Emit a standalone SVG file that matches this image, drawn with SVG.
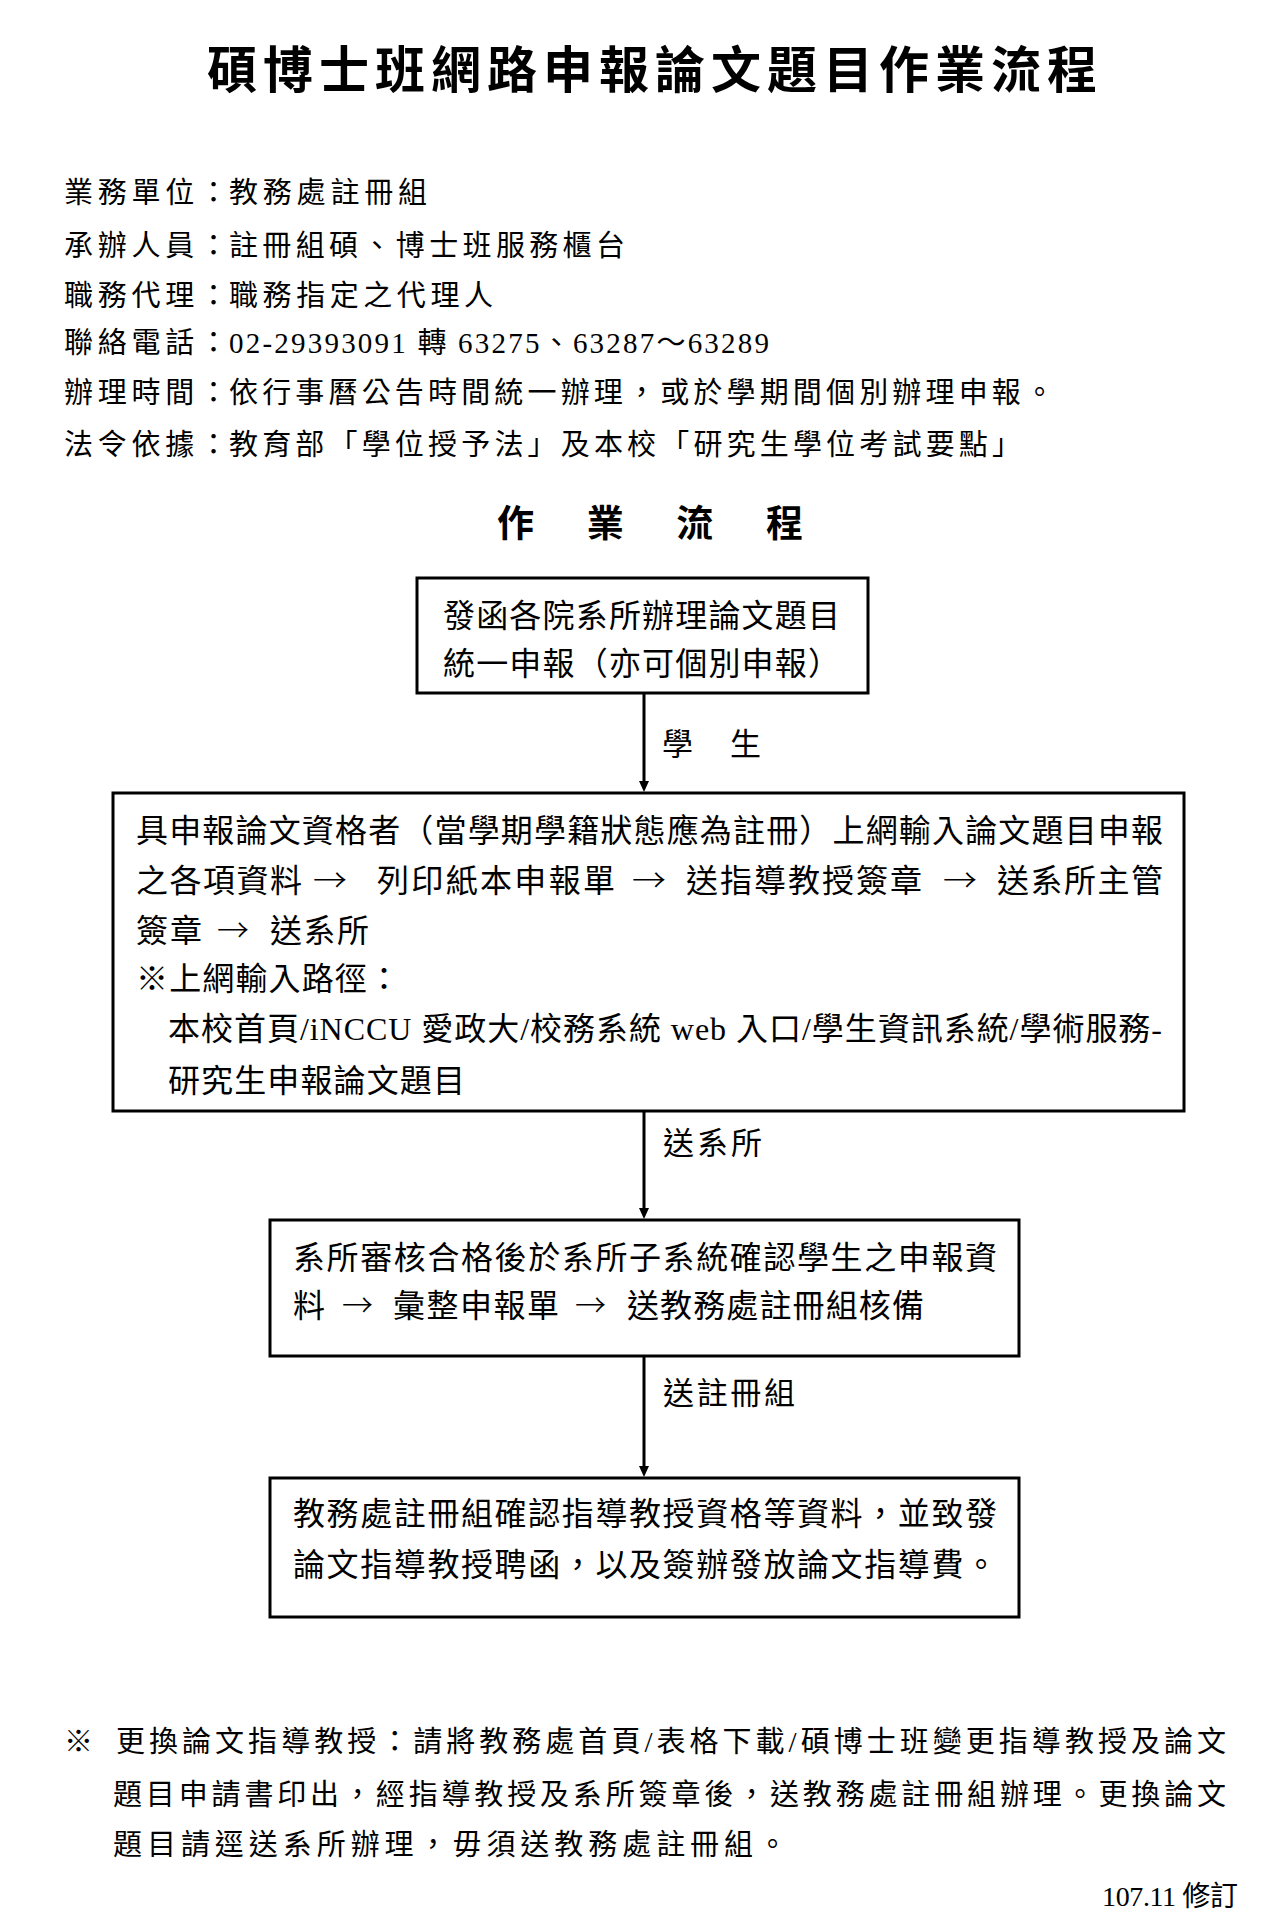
<svg xmlns="http://www.w3.org/2000/svg" width="1264" height="1922" viewBox="0 0 1264 1922">
<style>
text{font-family:"Liberation Serif","Noto Sans CJK TC",serif;fill:#000}
.title{font-family:"Noto Sans CJK TC",sans-serif;font-size:50px;font-weight:700}
.head{font-family:"Noto Sans CJK TC",sans-serif;font-size:37px;font-weight:700}
.info{font-size:29px}
.bx{font-size:32px}
.arr{font-family:"Noto Sans CJK TC",sans-serif;font-size:32px;font-weight:300}
.lbl{font-size:31px}
.note{font-size:29px}
.box{fill:#fff;stroke:#000;stroke-width:3}
.conn{stroke:#000;stroke-width:3;fill:none}
</style>
<defs>
<marker id="ah" viewBox="0 0 11 10" markerWidth="11" markerHeight="10" refX="4" refY="5" orient="auto" markerUnits="userSpaceOnUse">
<path d="M0,0 L11,5 L0,10 z" fill="#000"/>
</marker>
</defs>
<rect width="1264" height="1922" fill="#fff"/>

<g id="header">
<text class="title" x="207" y="88" textLength="890" lengthAdjust="spacing">碩博士班網路申報論文題目作業流程</text>
<g class="info">
<text x="64" y="203" textLength="164" lengthAdjust="spacing">業務單位：</text>
<text x="229" y="203" textLength="198" lengthAdjust="spacing">教務處註冊組</text>
<text x="64" y="256" textLength="164" lengthAdjust="spacing">承辦人員：</text>
<text x="229" y="256" textLength="396" lengthAdjust="spacing">註冊組碩、博士班服務櫃台</text>
<text x="64" y="306" textLength="164" lengthAdjust="spacing">職務代理：</text>
<text x="229" y="306" textLength="264" lengthAdjust="spacing">職務指定之代理人</text>
<text x="64" y="353" textLength="164" lengthAdjust="spacing">聯絡電話：</text>
<text x="229" y="353" textLength="540" lengthAdjust="spacing">02-29393091 轉 63275、63287～63289</text>
<text x="64" y="403" textLength="164" lengthAdjust="spacing">辦理時間：</text>
<text x="229" y="403" textLength="825" lengthAdjust="spacing">依行事曆公告時間統一辦理，或於學期間個別辦理申報。</text>
<text x="64" y="455" textLength="164" lengthAdjust="spacing">法令依據：</text>
<text x="229" y="455" textLength="792" lengthAdjust="spacing">教育部「學位授予法」及本校「研究生學位考試要點」</text>
</g>
<text class="head" x="497" y="537" textLength="306" lengthAdjust="spacing">作　業　流　程</text>
</g>

<g id="connectors">
<line class="conn" x1="644" y1="694" x2="644" y2="785" marker-end="url(#ah)"/>
<line class="conn" x1="644" y1="1112" x2="644" y2="1212" marker-end="url(#ah)"/>
<line class="conn" x1="644" y1="1357" x2="644" y2="1470" marker-end="url(#ah)"/>
<text class="lbl" x="662" y="755" textLength="99" lengthAdjust="spacing">學　生</text>
<text class="lbl" x="663" y="1154" textLength="99" lengthAdjust="spacing">送系所</text>
<text class="lbl" x="663" y="1404" textLength="132" lengthAdjust="spacing">送註冊組</text>
</g>

<g id="box1">
<rect class="box" x="417" y="578" width="451" height="115"/>
<text class="bx" x="443" y="627" textLength="397" lengthAdjust="spacing">發函各院系所辦理論文題目</text>
<text class="bx" x="443" y="675" textLength="397" lengthAdjust="spacing">統一申報（亦可個別申報）</text>
</g>

<g id="box2">
<rect class="box" x="113" y="793" width="1071" height="318"/>
<text class="bx" x="136" y="842" textLength="1027" lengthAdjust="spacing">具申報論文資格者（當學期學籍狀態應為註冊）上網輸入論文題目申報</text>
<text class="bx" x="136" y="892" textLength="166" lengthAdjust="spacing">之各項資料</text>
<text class="arr" x="313" y="892" textLength="34" lengthAdjust="spacingAndGlyphs">→</text>
<text class="bx" x="377" y="892" textLength="238" lengthAdjust="spacing">列印紙本申報單</text>
<text class="arr" x="632" y="892" textLength="34" lengthAdjust="spacingAndGlyphs">→</text>
<text class="bx" x="686" y="892" textLength="236" lengthAdjust="spacing">送指導教授簽章</text>
<text class="arr" x="943" y="892" textLength="34" lengthAdjust="spacingAndGlyphs">→</text>
<text class="bx" x="997" y="892" textLength="166" lengthAdjust="spacing">送系所主管</text>
<text class="bx" x="136" y="942" textLength="66" lengthAdjust="spacing">簽章</text>
<text class="arr" x="217" y="942" textLength="32" lengthAdjust="spacingAndGlyphs">→</text>
<text class="bx" x="270" y="942" textLength="99" lengthAdjust="spacing">送系所</text>
<text class="bx" x="136" y="990" textLength="264" lengthAdjust="spacing">※上網輸入路徑：</text>
<text class="bx" x="168" y="1040" textLength="994" lengthAdjust="spacing">本校首頁/iNCCU 愛政大/校務系統 web 入口/學生資訊系統/學術服務-</text>
<text class="bx" x="168" y="1092" textLength="297" lengthAdjust="spacing">研究生申報論文題目</text>
</g>

<g id="box3">
<rect class="box" x="270" y="1220" width="749" height="136"/>
<text class="bx" x="293" y="1269" textLength="704" lengthAdjust="spacing">系所審核合格後於系所子系統確認學生之申報資</text>
<text class="bx" x="293" y="1317">料</text>
<text class="arr" x="342" y="1317" textLength="31" lengthAdjust="spacingAndGlyphs">→</text>
<text class="bx" x="393" y="1317" textLength="166" lengthAdjust="spacing">彙整申報單</text>
<text class="arr" x="575" y="1317" textLength="31" lengthAdjust="spacingAndGlyphs">→</text>
<text class="bx" x="627" y="1317" textLength="297" lengthAdjust="spacing">送教務處註冊組核備</text>
</g>

<g id="box4">
<rect class="box" x="270" y="1478" width="749" height="139"/>
<text class="bx" x="293" y="1525" textLength="704" lengthAdjust="spacing">教務處註冊組確認指導教授資格等資料，並致發</text>
<text class="bx" x="293" y="1576" textLength="704" lengthAdjust="spacing">論文指導教授聘函，以及簽辦發放論文指導費。</text>
</g>

<g id="footnote" class="note">
<text x="64" y="1752">※</text>
<text x="116" y="1752" textLength="1110" lengthAdjust="spacing">更換論文指導教授：請將教務處首頁/表格下載/碩博士班變更指導教授及論文</text>
<text x="113" y="1805" textLength="1113" lengthAdjust="spacing">題目申請書印出，經指導教授及系所簽章後，送教務處註冊組辦理。更換論文</text>
<text x="113" y="1855" textLength="674" lengthAdjust="spacing">題目請逕送系所辦理，毋須送教務處註冊組。</text>
<text x="1102" y="1906" font-size="28" textLength="136" lengthAdjust="spacing">107.11 修訂</text>
</g>
</svg>
